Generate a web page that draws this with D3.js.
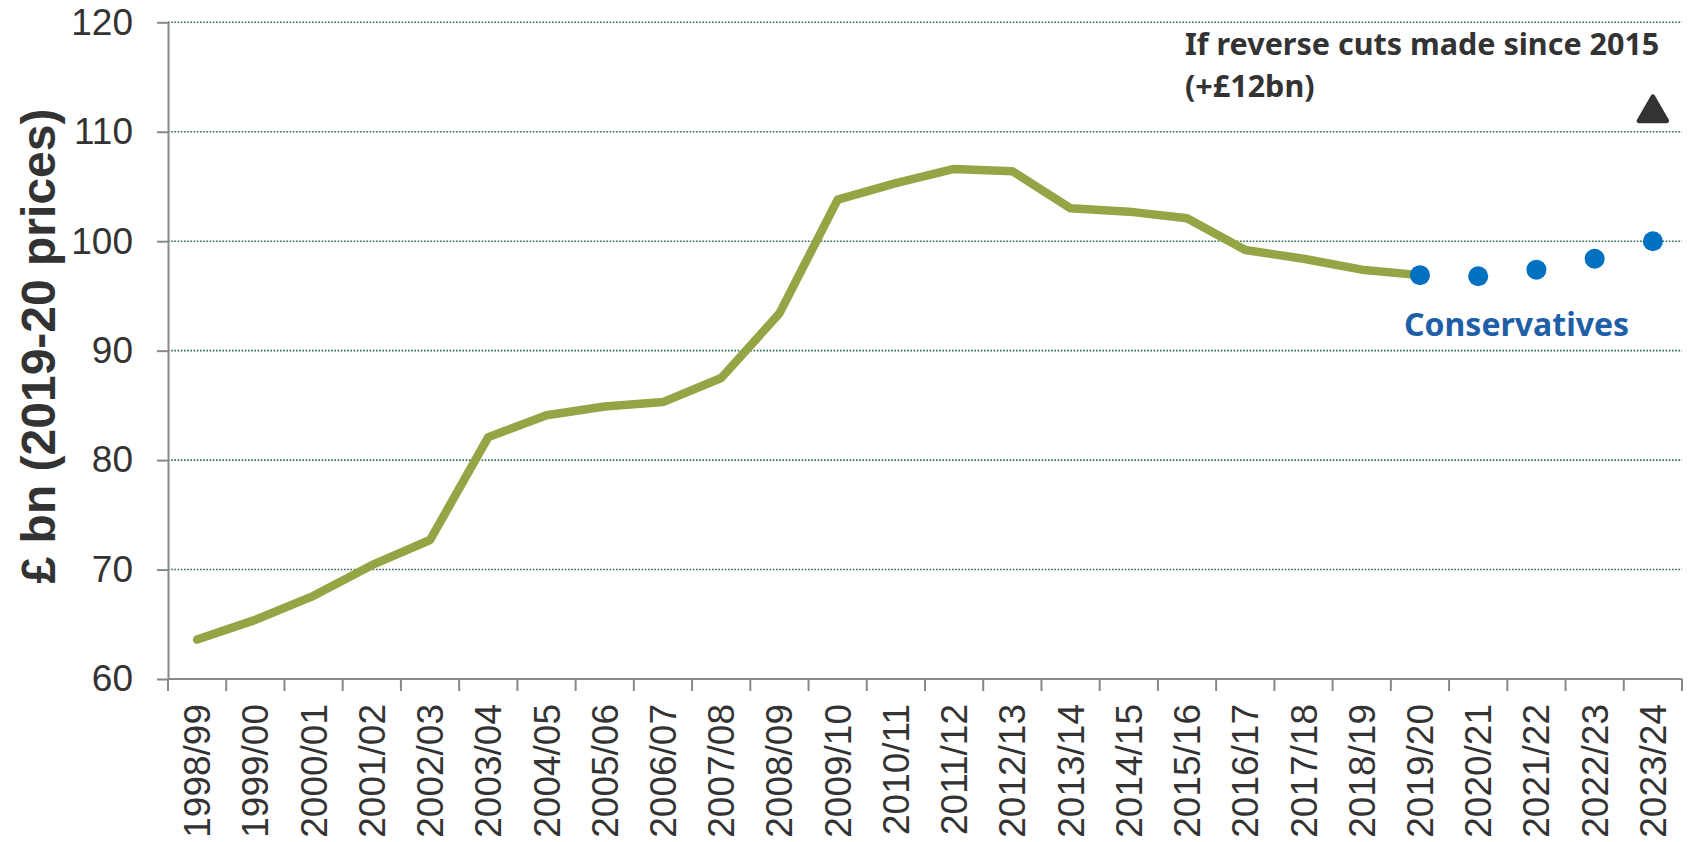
<!DOCTYPE html>
<html>
<head>
<meta charset="utf-8">
<script src="https://cdn.jsdelivr.net/npm/d3@7"></script>
<style>
    body { margin: 0; background: #fff; }
    svg { display: block; }
    .tick-label { font-family: "Liberation Sans", Arial, sans-serif; font-size: 37px; fill: #333; }
    .note { font-family: "Noto Sans", sans-serif; font-weight: bold; }
</style>
</head>
<body>
<div id="chart"></div>
<script>
// Data
const years = ['1998/99', '1999/00', '2000/01', '2001/02', '2002/03', '2003/04', '2004/05',
    '2005/06', '2006/07', '2007/08', '2008/09', '2009/10', '2010/11', '2011/12', '2012/13',
    '2013/14', '2014/15', '2015/16', '2016/17', '2017/18', '2018/19', '2019/20', '2020/21',
    '2021/22', '2022/23', '2023/24'];
const outturnYears = years.slice(0, 22);
const outturn = [63.6, 65.4, 67.6, 70.4, 72.7, 82.1, 84.1, 84.9, 85.3, 87.5, 93.4, 103.8,
    105.3, 106.6, 106.4, 103.0, 102.7, 102.1, 99.2, 98.4, 97.4, 96.9];
const planYears = ['2019/20', '2020/21', '2021/22', '2022/23', '2023/24'];
const planValues = [96.9, 96.8, 97.4, 98.4, 100.0];
const reverseYears = ['2023/24'];
const reverseValues = [112.1];
const yTicks = [60, 70, 80, 90, 100, 110, 120];

const W = 1696, H = 842;
const plotLeft = 168, plotRight = 1682, plotTop = 22.3, plotBottom = 679;

const svg = d3.select('#chart').append('svg')
    .attr('width', W)
    .attr('height', H);

const x = d3.scaleBand().domain(years).range([plotLeft, plotRight]).padding(0);
const y = d3.scaleLinear().domain([60, 120]).range([plotBottom, plotTop]);
const cx = d => x(d) + x.bandwidth() / 2;

// Gridlines
svg.append('g')
    .selectAll('line')
    .data(yTicks.filter(t => t > 60))
    .join('line')
    .attr('x1', plotLeft).attr('x2', plotRight)
    .attr('y1', d => y(d)).attr('y2', d => y(d))
    .attr('stroke', '#336b55')
    .attr('stroke-width', 1.6)
    .attr('stroke-dasharray', '1.6,1.6');

// Y axis
const yAxis = svg.append('g')
    .attr('transform', `translate(${plotLeft},0)`)
    .call(d3.axisLeft(y).tickValues(yTicks).tickSize(11).tickPadding(24).tickSizeOuter(0));
yAxis.attr('font-size', null).attr('font-family', null);
yAxis.select('.domain').attr('stroke', '#888').attr('stroke-width', 2);
yAxis.selectAll('.tick line').attr('stroke', '#888').attr('stroke-width', 2);
yAxis.selectAll('.tick text').attr('class', 'tick-label').attr('fill', null);

// X axis - ticks at band boundaries
const xAxis = svg.append('g');
xAxis.append('line')
    .attr('x1', plotLeft).attr('x2', plotRight)
    .attr('y1', plotBottom).attr('y2', plotBottom)
    .attr('stroke', '#888').attr('stroke-width', 2);
xAxis.selectAll('line.tk')
    .data(years.concat(['end']))
    .join('line')
    .attr('class', 'tk')
    .attr('x1', (d, i) => i < years.length ? x(d) : plotRight)
    .attr('x2', (d, i) => i < years.length ? x(d) : plotRight)
    .attr('y1', plotBottom).attr('y2', plotBottom + 12)
    .attr('stroke', '#888').attr('stroke-width', 2);
xAxis.selectAll('text')
    .data(years)
    .join('text')
    .attr('class', 'tick-label')
    .attr('transform', d => `translate(${cx(d) + 13},${plotBottom + 25}) rotate(-90)`)
    .attr('text-anchor', 'end')
    .text(d => d);

// Y axis title
svg.append('text')
    .attr('transform', 'translate(55,346) rotate(-90)')
    .attr('text-anchor', 'middle')
    .attr('font-family', '"Liberation Sans", Arial, sans-serif')
    .attr('font-weight', 'bold')
    .attr('font-size', 48)
    .attr('fill', '#333')
    .text('£ bn (2019-20 prices)');

// Outturn line
const line = d3.line().x((d, i) => cx(outturnYears[i])).y(d => y(d));
svg.append('path')
    .datum(outturn)
    .attr('d', line)
    .attr('fill', 'none')
    .attr('stroke', '#94a545')
    .attr('stroke-width', 8.5)
    .attr('stroke-linejoin', 'round')
    .attr('stroke-linecap', 'round');

// Conservative plans
svg.append('g')
    .selectAll('circle')
    .data(planValues)
    .join('circle')
    .attr('cx', (d, i) => cx(planYears[i]))
    .attr('cy', d => y(d))
    .attr('r', 10)
    .attr('fill', '#0070c0');

// Reverse cuts marker (box centred on the value, like a spreadsheet marker)
const triSize = 340;
const triShift = Math.sqrt(triSize / (Math.sqrt(3) * 3)) / 2;
const tri = d3.symbol().type(d3.symbolTriangle).size(triSize);
svg.append('g')
    .selectAll('path')
    .data(reverseValues)
    .join('path')
    .attr('transform', (d, i) => `translate(${cx(reverseYears[i])},${y(d) + triShift})`)
    .attr('d', tri)
    .attr('fill', '#333')
    .attr('stroke', '#333')
    .attr('stroke-width', 4.5)
    .attr('stroke-linejoin', 'round');

// Annotations
svg.append('text')
    .attr('class', 'note')
    .attr('x', 1185).attr('y', 55)
    .attr('font-size', 30.5)
    .attr('fill', '#333')
    .text('If reverse cuts made since 2015');
svg.append('text')
    .attr('class', 'note')
    .attr('x', 1185).attr('y', 97)
    .attr('font-size', 30.5)
    .attr('fill', '#333')
    .text('(+£12bn)');

svg.append('text')
    .attr('class', 'note')
    .attr('x', 1404)
    .attr('y', 336)
    .attr('font-size', 32)
    .attr('fill', '#1f5fa8')
    .text('Conservatives');
</script>
</body>
</html>
